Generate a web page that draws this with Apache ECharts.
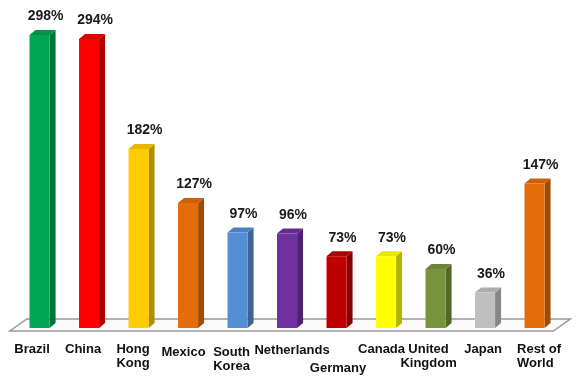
<!DOCTYPE html>
<html><head><meta charset="utf-8">
<script src="https://cdn.jsdelivr.net/npm/echarts@6/dist/echarts.min.js"></script>
<style>html,body{margin:0;padding:0;background:#fff}#c{width:578px;height:382px}</style>
</head><body><div id="c"></div>
<script>
const categories = ['Brazil','China','Hong\nKong','Mexico','South\nKorea','Netherlands','Germany','Canada','United\nKingdom','Japan','Rest of\nWorld'];
const values = [298,294,182,127,97,96,73,73,60,36,147];
const frontColors = ['#00A651','#FF0000','#FFCC00','#E46C0A','#558ED5','#7030A0','#C00000','#FFFF00','#77933C','#BFBFBF','#E46C0A'];
const sideColors  = ['#00733A','#B20000','#B38F00','#A04C07','#3C6496','#4E2270','#860000','#B3B300','#53672A','#868686','#A04C07'];
const topColors   = ['#00924A','#E00000','#E6B800','#CC6009','#4C80C0','#652B90','#AD0000','#E6E600','#6B8436','#ACACAC','#CC6009'];
// label paddings (styling only)
const labelPads = [[0,15,0,0],[0,12,0,0],[0,11,0,0],[3,9,0,0],[3,12,0,0],[1,0,0,10],[19,0,0,3],[0,9,0,0],[0,14,0,0],[0,4,0,0],[0,0,0,9]];

const FONT = 'Liberation Sans, Arial, sans-serif';
const chart = echarts.init(document.getElementById('c'), null, {renderer:'canvas'});
const option = {
  animation: false,
  backgroundColor: '#fff',
  grid: {left: 14.8, right: 18.7, top: 33, bottom: 54},
  xAxis: {
    type: 'category',
    data: categories.map((c, i) => ({value: c, textStyle: {padding: labelPads[i]}})),
    axisLine: {show: false}, axisTick: {show: false}, splitLine: {show: false},
    axisLabel: {
      interval: 0, margin: 14, fontSize: 13, fontWeight: 'bold', fontFamily: FONT,
      color: '#111', lineHeight: 14,
      formatter: function (v, idx) {
        if (idx === 10) return v.split('\n').map(s => '{l|' + s + '}').join('\n');
        return v;
      },
      rich: {l: {align: 'left', fontSize: 13, fontWeight: 'bold', fontFamily: FONT, color: '#111', lineHeight: 14}}
    }
  },
  yAxis: {type: 'value', min: 0, max: 300, show: false, splitLine: {show: false}},
  series: [
    {
      type: 'custom', z: 1, silent: true,
      data: [[0, 0]],
      renderItem: function (params, api) {
        const cs = params.coordSys;
        const L = cs.x, R = cs.x + cs.width, B = cs.y + cs.height;
        return {
          type: 'polygon',
          shape: {points: [[L - 5, B + 3], [R - 6, B + 3], [R + 11, B - 9], [L + 12, B - 9]]},
          style: {fill: '#fbfbfb', stroke: '#999', lineWidth: 1.5}
        };
      }
    },
    {
      type: 'custom', z: 2,
      data: values.map((v, i) => [i, v]),
      renderItem: function (params, api) {
        const i = params.dataIndex;
        const base = api.coord([api.value(0), 0]);
        const top = api.coord([api.value(0), api.value(1)]);
        const bw = api.size([1, 0])[0] * 0.405;
        const x0 = base[0] - bw / 2, x1 = base[0] + bw / 2;
        const dx = 6, dy = 5;
        const yT = top[1], yB = base[1];
        return {
          type: 'group',
          children: [
            {type: 'polygon', shape: {points: [[x1, yT], [x1 + dx, yT - dy], [x1 + dx, yB - dy], [x1, yB]]}, style: {fill: sideColors[i]}},
            {type: 'polygon', shape: {points: [[x0, yT], [x0 + dx, yT - dy], [x1 + dx, yT - dy], [x1, yT]]}, style: {fill: topColors[i]}},
            {type: 'rect', shape: {x: x0, y: yT, width: bw, height: yB - yT}, style: {fill: frontColors[i]}},
            {type: 'text', style: {x: base[0] + 6, y: yT - 18.5, text: values[i] + '%', align: 'center', verticalAlign: 'middle',
              font: 'bold 14px ' + FONT, fill: '#1a1a1a'}}
          ]
        };
      }
    }
  ]
};
chart.setOption(option);
</script>
</body></html>
